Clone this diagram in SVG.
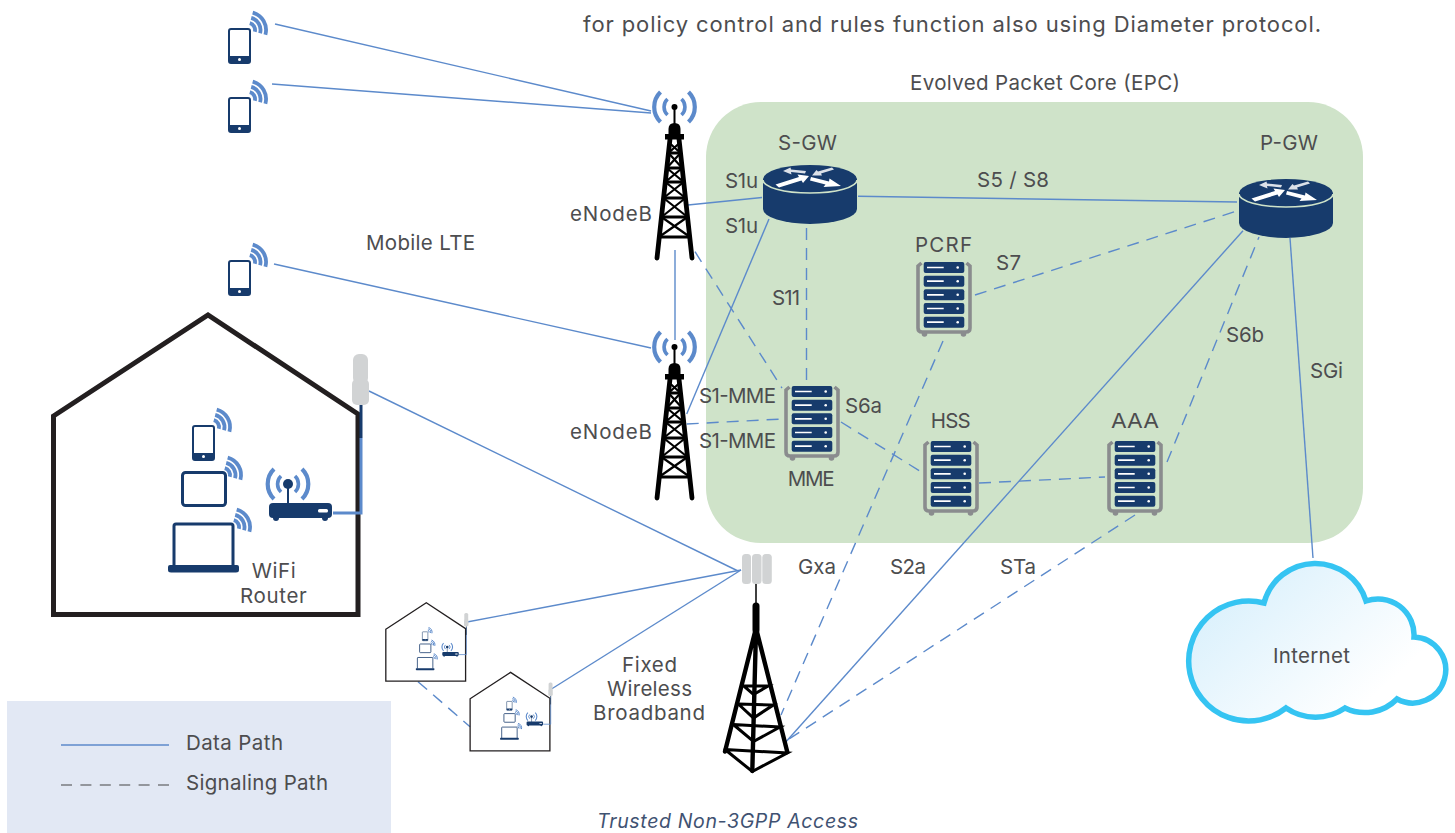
<svg xmlns="http://www.w3.org/2000/svg" xmlns:xlink="http://www.w3.org/1999/xlink" width="1455" height="833" viewBox="0 0 1455 833">
<style>
text{font-family:"Inter","Liberation Sans",sans-serif;font-size:20.500px;fill:#4d4d4f}
.d{fill:none;stroke:#5c8acb;stroke-width:1.400}
.s{fill:none;stroke:#5c8acb;stroke-width:1.400;stroke-dasharray:12 8}
.navy{fill:#173b6c}
.arc{fill:none;stroke:#5c8acb}
.blk{fill:none;stroke:#000;stroke-linecap:round}
</style>
<defs>
<linearGradient id="cg" x1="0" y1="0.3" x2="0.75" y2="0.8"><stop offset="0" stop-color="#d9f0fc"/><stop offset="1" stop-color="#fff"/></linearGradient>
<g id="wifi">
<path class="arc" stroke-width="3.800" d="M4.700-17.400A18 18 0 0 1 17.400 4.700M3.200-12.100A12.500 12.500 0 0 1 12.100 3.200M1.800-6.800A7 7 0 0 1 6.800 1.800"/>
</g>
<g id="radio">
<path class="arc" stroke-width="4.200" d="M-14-15A21 21 0 0 0-14 15M14-15A21 21 0 0 1 14 15"/>
<path class="arc" stroke-width="3.600" d="M-7-8A11 11 0 0 0-7 8M7-8A11 11 0 0 1 7 8"/>
</g>
<g id="phone">
<rect x="1" y="1" width="21" height="34" rx="2" fill="#fff" stroke="#173b6c" stroke-width="2"/>
<path class="navy" d="M1 28H22V33Q22 35 20 35H3Q1 35 1 33Z"/>
<circle cx="11.500" cy="31.500" r="1.500" fill="#fff"/>
<use href="#wifi" x="20" y="2"/>
</g>
<g id="router">
<path class="navy" d="M0 14V44A47 15 0 0 0 94 44V14Z"/>
<ellipse class="navy" cx="47" cy="14" rx="47" ry="14"/>
<path d="M0 15A47 13 0 0 0 94 15" fill="none" stroke="#cfe3c9" stroke-width="1.600"/>
<g fill="#fff" stroke="none">
<path d="M12.500 19.500L36 12L34.500 9.500L46 11L40 18L38.500 15.500L16 22.500Z"/>
<path d="M48 12L66 16.500L66.500 13.500L78 21L60.500 22L62.500 19.500L47 15.500Z"/>
<path opacity=".85" d="M42 8.500L28 7L28.500 9.500L20 6L27.500 2.500L28 4.500L43 6Z"/>
<path opacity=".85" d="M71 4.500L58 8.500L59 10.500L49 10.500L53.500 5L55 6.500L69 2.500Z"/>
</g>
</g>
<g id="server">
<path d="M5.500 1L2 4V66Q2 70 6 70H50Q54 70 54 66V4L50.500 1" fill="none" stroke="#8a8c8e" stroke-width="3.600"/>
<circle cx="8.500" cy="72" r="2.800" fill="#8a8c8e"/><circle cx="47.500" cy="72" r="2.800" fill="#8a8c8e"/>
<g class="navy">
<rect x="7.700" y="0" width="40.600" height="11" rx="2"/><rect x="7.700" y="13.700" width="40.600" height="11" rx="2"/><rect x="7.700" y="27.300" width="40.600" height="11" rx="2"/><rect x="7.700" y="41" width="40.600" height="11" rx="2"/><rect x="7.700" y="54.700" width="40.600" height="11" rx="2"/>
</g>
<path stroke="#fff" stroke-width="1.700" d="M11 5.500H27.700M11 19.200H27.700M11 32.800H27.700M11 46.500H27.700M11 60.200H27.700"/>
<g fill="#fff"><circle cx="41.700" cy="5.500" r="1.300"/><circle cx="41.700" cy="19.200" r="1.300"/><circle cx="41.700" cy="32.800" r="1.300"/><circle cx="41.700" cy="46.500" r="1.300"/><circle cx="41.700" cy="60.200" r="1.300"/></g>
</g>
<g id="tower">
<use href="#radio"/>
<circle r="3"/>
<path stroke="#000" stroke-width="2" d="M0 0V18"/>
<path d="M-6 31V22Q-6 16 0 16Q6 16 6 22V31Z"/>
<rect x="-9.500" y="27" width="19" height="5.500"/>
<path class="blk" stroke-width="4.800" d="M-4.500 32L-17.500 151M4.500 32L17.500 151"/>
<path class="blk" stroke-width="3.200" stroke-linecap="butt" d="M-6 46H6M-7.700 61H7.700M-9.200 75H9.200M-11 91H11M-13 110H13M-15.500 130H15.500"/>
<path fill="none" stroke="#000" stroke-width="2.200" d="M-5 36L6 46M5 36L-6 46M-6 46L7.700 61M6 46L-7.700 61M-7.700 61L9.200 75M7.700 61L-9.200 75M-9.200 75L11 91M9.200 75L-11 91M-11 91L13 110M11 91L-13 110M-13 110L15.500 130M13 110L-15.500 130"/>
</g>
<g id="home">
<path fill="none" stroke="#231f20" stroke-width="5" d="M53.500 416L208 315L358 414V614.500H53.500Z"/>
<path fill="none" stroke="#173b6c" stroke-width="3" d="M361 405V438"/>
<path fill="none" stroke="#5c8acb" stroke-width="3" d="M361 438V513H333"/>
<rect x="353" y="354" width="15" height="30" rx="6" fill="#d1d3d4"/>
<rect x="352" y="379" width="17" height="26" rx="5" fill="#d1d3d4"/>
<use href="#radio" x="288" y="484"/>
<circle cx="288" cy="484" r="5" class="navy"/>
<path stroke="#173b6c" stroke-width="2" d="M288 484V505"/>
<rect x="269" y="503" width="63" height="15" rx="4" class="navy"/>
<circle cx="276" cy="518" r="3" class="navy"/><circle cx="325" cy="518" r="3" class="navy"/>
<rect x="318" y="509" width="10" height="3.500" rx="1.500" fill="#fff"/>
<use href="#phone" x="192" y="425"/>
<rect x="182.500" y="472.500" width="43" height="33" rx="3" fill="#fff" stroke="#173b6c" stroke-width="3"/>
<use href="#wifi" x="223" y="475"/>
<path fill="#fff" stroke="#173b6c" stroke-width="3" d="M174 566V526Q174 524 176 524H231Q233 524 233 526V566"/>
<path class="navy" d="M168 567Q168 565 170 565H237Q239 565 239 567V570Q239 572.500 236 572.500H171Q168 572.500 168 570Z"/>
<use href="#wifi" x="232" y="527"/>
</g>
</defs>

<rect id="epc" x="706" y="102" width="657" height="441" rx="55" fill="#cfe3c9"/>
<rect id="legend" x="7" y="701" width="384" height="132" fill="#e2e8f4"/>

<g id="connectors">
<path class="d" d="M275 24L651 111"/>
<path class="d" d="M272 84L651 113"/>
<path class="d" d="M274 264L651 348"/>
<path class="d" d="M675 250V340"/>
<path class="d" d="M688 205L762 197.500"/>
<path class="d" d="M769 219L686.700 414"/>
<path class="d" d="M858 196.300L1237 202"/>
<path class="d" d="M786 741.700L1243 230.700"/>
<path class="d" d="M1290 238L1313 558"/>
<path class="d" d="M369 391L738 571"/>
<path class="d" d="M467 622L741 570"/>
<path class="d" d="M551.500 689L741 570"/>
<path class="s" d="M695 251.700L782 388"/>
<path class="s" d="M806.500 228V382"/>
<path class="s" d="M686.700 424L782 419"/>
<path class="s" d="M841 422L923 473"/>
<path class="s" d="M975 295L1237 211"/>
<path class="s" d="M1167 462L1259 237"/>
<path class="s" d="M979 483L1105 477"/>
<path class="s" d="M943 341L781 715"/>
<path class="s" d="M1135 515L786 741"/>
<path class="s" d="M418 681.700L470 726.700"/>
</g>

<g id="phone-1"><use href="#phone" x="228" y="28"/></g>
<g id="phone-2"><use href="#phone" x="228" y="97"/></g>
<g id="phone-3"><use href="#phone" x="228" y="260"/></g>
<g id="enodeb-1"><use href="#tower" x="674.500" y="107"/><text x="570" y="220.500" textLength="82">eNodeB</text></g>
<g id="enodeb-2"><use href="#tower" x="674.500" y="347"/><text x="570" y="439" textLength="82">eNodeB</text></g>
<g id="sgw"><use href="#router" x="763" y="165"/><text x="778" y="150" textLength="59">S-GW</text></g>
<g id="pgw"><use href="#router" x="1239" y="179"/><text x="1260" y="150" textLength="58">P-GW</text></g>
<g id="mme"><use href="#server" x="784" y="386"/><text x="787.700" y="485.700" textLength="47">MME</text></g>
<g id="pcrf"><use href="#server" x="916" y="262"/><text x="915" y="252" textLength="57">PCRF</text></g>
<g id="hss"><use href="#server" x="923" y="441"/><text x="930.700" y="428" textLength="40">HSS</text></g>
<g id="aaa"><use href="#server" x="1107" y="441"/><text x="1111" y="428" textLength="48" lengthAdjust="spacingAndGlyphs">AAA</text></g>
<g id="home-big"><use href="#home"/><text x="251.700" y="578" textLength="44">WiFi</text><text x="240" y="603" textLength="66.700">Router</text></g>
<g id="home-small-1"><use href="#home" transform="translate(371.800 520.200) scale(.262)"/></g>
<g id="home-small-2"><use href="#home" transform="translate(456.100 589.800) scale(.262)"/></g>
<g id="fwa-tower">
<g fill="#d1d3d4"><rect x="742" y="554" width="9" height="30" rx="3.500"/><rect x="752" y="554" width="9.500" height="30" rx="3.500"/><rect x="762.300" y="554" width="9.500" height="30" rx="3.500"/></g>
<path stroke="#000" stroke-width="1.500" d="M756 584V604"/>
<path fill="none" stroke="#000" stroke-width="7" stroke-linecap="round" d="M756 606V630"/>
<path class="blk" stroke-width="4.400" d="M755.500 630L725 751.500M756.500 630L787.300 752M756 630L752.300 771"/>
<path class="blk" stroke-width="3" d="M743.300 685.700L768.300 686L753.500 694.500L743.300 685.700M738.300 704L773.300 705L753.500 718L738.300 704M733.300 724.500L780 727L753.500 741.500L733.300 724.500M725 749.500L787.300 753L752.300 771.500L725 749.500"/>
</g>
<g id="internet">
<path fill="url(#cg)" stroke="#35c4f2" stroke-width="5.500" stroke-linejoin="miter" d="M1264 603A53 53 0 0 1 1366 601A36 36 0 0 1 1414 637A33 33 0 1 1 1397 699A45 45 0 0 1 1345 708A52 52 0 0 1 1286 708A60 60 0 1 1 1264 603Z"/>
<text x="1273" y="663" textLength="77">Internet</text>
</g>

<g id="labels">
<text x="583" y="32" textLength="738" style="font-size:22px">for policy control and rules function also using Diameter protocol.</text>
<text x="910" y="90" textLength="270">Evolved Packet Core (EPC)</text>
<text x="725" y="187.500" textLength="33">S1u</text>
<text x="725" y="233" textLength="33">S1u</text>
<text x="977" y="187" textLength="72">S5 / S8</text>
<text x="996" y="270" textLength="25">S7</text>
<text x="772" y="305" textLength="28">S11</text>
<text x="366" y="250" textLength="109">Mobile LTE</text>
<text x="1226" y="342" textLength="38">S6b</text>
<text x="1310" y="378" textLength="33">SGi</text>
<text x="699" y="403" textLength="77">S1-MME</text>
<text x="699" y="448" textLength="77">S1-MME</text>
<text x="845" y="412.500" textLength="37">S6a</text>
<text x="798" y="574" textLength="38">Gxa</text>
<text x="890" y="574" textLength="36">S2a</text>
<text x="1000" y="574" textLength="36">STa</text>
<text x="622" y="672" textLength="55">Fixed</text>
<text x="607" y="696" textLength="85">Wireless</text>
<text x="593" y="720" textLength="112">Broadband</text>
<text x="597" y="828" textLength="261" style="font-size:19.500px;font-style:italic;fill:#3f5272">Trusted Non-3GPP Access</text>
</g>

<g id="legend-key">
<path class="d" d="M61 745H169"/>
<path fill="none" stroke="#444" stroke-width="1.200" stroke-dasharray="11 8.400" d="M61 785H169"/>
<text x="186" y="750" textLength="97">Data Path</text>
<text x="186" y="790" textLength="142">Signaling Path</text>
</g>
</svg>
